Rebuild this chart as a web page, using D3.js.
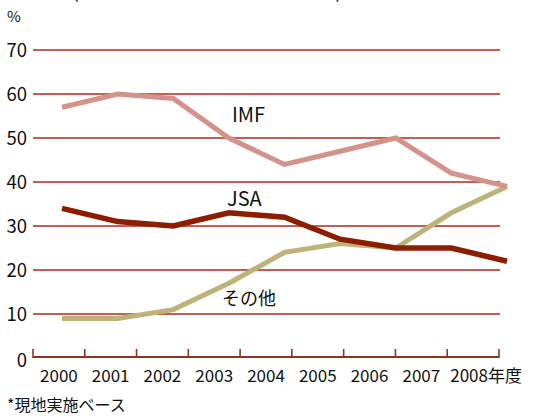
<!DOCTYPE html>
<html><head><meta charset="utf-8">
<script src="https://cdn.jsdelivr.net/npm/d3@7"></script>
<style>
body{margin:0;background:#fff;}
text{font-family:"Noto Sans CJK JP","Noto Sans",sans-serif;fill:#111;}
</style></head>
<body><svg id="c" width="558" height="418"></svg>
<script>
const years = ["2000","2001","2002","2003","2004","2005","2006","2007","2008"];
const yTicks = [0,10,20,30,40,50,60,70];
const imf   = [57,60,59,50,44,47,50,42,39];
const jsa   = [34,31,30,33,32,27,25,25,22];
const other = [9,9,11,17,24,26,25,33,39];
const seriesNames = ["IMF","JSA","その他"];

const svg = d3.select("#c");
const y = d3.scaleLinear().domain([0,70]).range([358,50]);
const xBand = d3.scaleBand().domain(years).range([33,499]);
const xPt = d3.scalePoint().domain(years).range([62,507]);
const FF = '"Noto Sans CJK JP","Noto Sans",sans-serif';

// title (cut off at top edge, as in the reference)
const t = svg.append("text").attr("y",-2).attr("font-size",20);
t.append("tspan").attr("x",72).text("(2000");
t.append("tspan").attr("x",157).text("年度～");
t.append("tspan").attr("x",251).text("2008年度)");

// gridlines
svg.append("g").selectAll("line").data(yTicks.filter(d=>d>0)).join("line")
  .attr("x1",33).attr("x2",500).attr("y1",d=>y(d)).attr("y2",d=>y(d))
  .attr("stroke","#b02a14").attr("stroke-width",1.3);

// y labels
svg.append("g").selectAll("text").data(yTicks).join("text")
  .attr("x",27).attr("y",d=>y(d)+(d===0?2:0)).attr("dy","0.36em").attr("text-anchor","end")
  .attr("font-size",18.5).text(d=>d);
svg.append("text").attr("x",7).attr("y",22).attr("font-size",15).text("%");

// x axis
const ax = svg.append("g").attr("transform","translate(0,357)")
  .call(d3.axisBottom(xBand).tickSize(0).tickPadding(13).tickFormat((d,i)=>i===years.length-1?d+"年度":d));
ax.select(".domain").attr("stroke","#8e3420").attr("stroke-width",2.2).attr("d","M33,0H499");
ax.selectAll("text").attr("font-size",17).attr("font-family",FF).attr("fill","#111");
ax.select(".tick:last-of-type text").attr("dx",13);
svg.append("g").selectAll("line").data(years.concat(["end"])).join("line")
  .attr("x1",(d,i)=>33+i*xBand.step()).attr("x2",(d,i)=>33+i*xBand.step())
  .attr("y1",349).attr("y2",358).attr("stroke","#8e3420").attr("stroke-width",1.6);

// lines
const line = d3.line().x((d,i)=>xPt(years[i])).y(d=>y(d));
const specs = [[other,"#bdb27a",5],[imf,"#d3928a",5],[jsa,"#8e1c00",5.5]];
specs.forEach(([vals,col,w])=>{
  svg.append("path").datum(vals).attr("d",line).attr("fill","none")
    .attr("stroke",col).attr("stroke-width",w).attr("stroke-linejoin","miter");
});

// series labels
svg.append("text").attr("x",232).attr("y",122).attr("font-size",20).text(seriesNames[0]);
svg.append("text").attr("x",227).attr("y",206).attr("font-size",20).text(seriesNames[1]);
svg.append("text").attr("x",222).attr("y",305).attr("font-size",18).text(seriesNames[2]);

// footnote
svg.append("text").attr("x",7).attr("y",411).attr("font-size",16).text("*現地実施ベース");
</script></body></html>
